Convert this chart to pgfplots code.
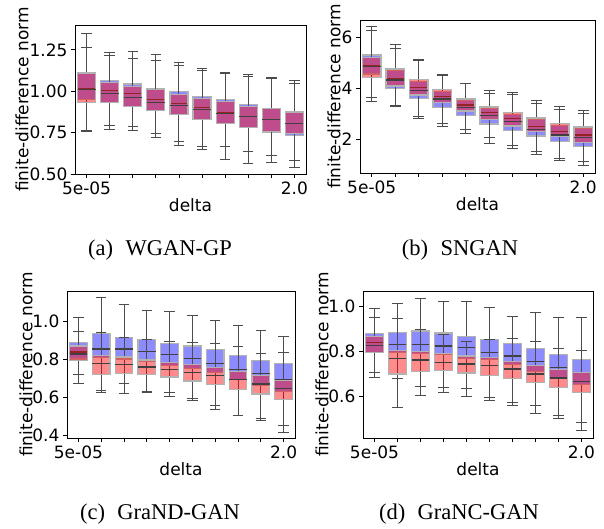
\documentclass[border=0pt]{standalone}
\usepackage{fontspec}
\setmainfont{DejaVu Sans}
\newfontfamily\capfont{Liberation Serif}
\usepackage{pgfplots}
\pgfplotsset{compat=1.18}
\usepgfplotslibrary{statistics}

\pgfplotsset{
 myax/.style={
  scale only axis, anchor=south west,
  xmin=0.5, xmax=10.5,
  xtick={1,...,10}, xticklabels={\mbox{5e-05},,,,,,,,,\mbox{2.0}},
  tick pos=left, tick align=outside, major tick length=4pt,
  tick style={black, line width=0.8pt},
  axis line style={black, line width=0.8pt},
  every tick label/.append style={font=\fontsize{17}{20}\selectfont},
  label style={font=\fontsize{17}{20}\selectfont},
  /pgf/number format/assume math mode=true,
  xlabel={delta}, ylabel={finite-difference norm},
  xlabel style={at={(axis description cs:0.5,0)}, anchor=center, yshift=-31pt},
  boxplot/draw direction=y,
  boxplot/box extend=0.78,
  boxplot/whisker extend=0.45,
  boxplot/every whisker/.style={draw=black!70, line width=1pt},
  boxplot/every median/.style={draw=black!75, line width=1.2pt},
  boxplot/every box/.style={draw=gray!60, line width=1.2pt},
 },
 bluebox/.style={fill=blue, fill opacity=0.45},
 redbox/.style={fill=red, fill opacity=0.45},
}
% draw position, lower whisker, lower quartile, median, upper quartile, upper whisker
\newcommand{\bb}[6]{\addplot[bluebox, boxplot prepared={draw position=#1, lower whisker=#2, lower quartile=#3, median=#4, upper quartile=#5, upper whisker=#6}] coordinates {};}
\newcommand{\br}[6]{\addplot[redbox, boxplot prepared={draw position=#1, lower whisker=#2, lower quartile=#3, median=#4, upper quartile=#5, upper whisker=#6}] coordinates {};}

\begin{document}
\begin{tikzpicture}
\useasboundingbox (0,0) rectangle (604pt,529pt);

% (a) WGAN-GP
\begin{axis}[myax, at={(75pt,355pt)}, width=231pt, height=149pt,
  ymin=0.5, ymax=1.40, ytick={0.5,0.75,1.0,1.25},
  yticklabel style={/pgf/number format/.cd, fixed, fixed zerofill, precision=2},
  ylabel style={at={(axis description cs:-0.2294,0.5)}, anchor=center}]
\bb{1}{0.764}{0.948}{1.014}{1.114}{1.350}
\bb{2}{0.794}{0.934}{1.004}{1.064}{1.234}
\bb{3}{0.788}{0.908}{0.984}{1.044}{1.240}
\bb{4}{0.744}{0.884}{0.950}{1.018}{1.224}
\bb{5}{0.694}{0.860}{0.924}{1.000}{1.174}
\bb{6}{0.664}{0.830}{0.904}{0.970}{1.138}
\bb{7}{0.668}{0.804}{0.870}{0.948}{1.114}
\bb{8}{0.638}{0.780}{0.846}{0.920}{1.104}
\bb{9}{0.614}{0.754}{0.828}{0.894}{1.080}
\bb{10}{0.584}{0.734}{0.804}{0.874}{1.064}
\br{1}{0.758}{0.934}{1.010}{1.110}{1.264}
\br{2}{0.768}{0.934}{0.984}{1.054}{1.214}
\br{3}{0.764}{0.908}{0.964}{1.028}{1.198}
\br{4}{0.718}{0.884}{0.934}{1.008}{1.184}
\br{5}{0.674}{0.860}{0.912}{0.980}{1.154}
\br{6}{0.650}{0.830}{0.888}{0.954}{1.128}
\br{7}{0.588}{0.804}{0.866}{0.940}{1.110}
\br{8}{0.564}{0.780}{0.846}{0.908}{1.088}
\br{9}{0.568}{0.758}{0.828}{0.894}{1.074}
\br{10}{0.538}{0.745}{0.804}{0.874}{1.048}
\end{axis}

% (b) SNGAN
\begin{axis}[myax, at={(360pt,356pt)}, width=235pt, height=153pt,
  ymin=0.68, ymax=6.68, ytick={2,4,6},
  ylabel style={at={(axis description cs:-0.1106,0.5)}, anchor=center}]
\bb{1}{3.63}{4.56}{4.88}{5.31}{6.42}
\bb{2}{3.32}{4.00}{4.39}{4.70}{5.73}
\bb{3}{2.89}{3.61}{4.04}{4.28}{5.14}
\bb{4}{2.63}{3.25}{3.67}{3.88}{4.56}
\bb{5}{2.37}{2.92}{3.35}{3.52}{4.20}
\bb{6}{2.08}{2.60}{3.06}{3.20}{3.91}
\bb{7}{1.76}{2.34}{2.82}{2.97}{3.83}
\bb{8}{1.52}{2.13}{2.50}{2.77}{3.54}
\bb{9}{1.26}{1.91}{2.30}{2.55}{3.28}
\bb{10}{1.15}{1.71}{2.17}{2.41}{3.15}
\br{1}{3.48}{4.43}{4.85}{5.22}{6.25}
\br{2}{3.28}{4.09}{4.33}{4.76}{5.57}
\br{3}{2.82}{3.74}{3.93}{4.35}{5.10}
\br{4}{2.52}{3.45}{3.58}{3.95}{4.52}
\br{5}{2.24}{3.11}{3.25}{3.58}{4.17}
\br{6}{1.84}{2.78}{2.95}{3.27}{3.80}
\br{7}{1.65}{2.52}{2.69}{3.04}{3.74}
\br{8}{1.39}{2.30}{2.39}{2.84}{3.41}
\br{9}{1.16}{2.10}{2.17}{2.62}{3.18}
\br{10}{0.98}{1.87}{2.07}{2.48}{3.02}
\end{axis}

% (c) GraND-GAN
\begin{axis}[myax, at={(67pt,91pt)}, width=228pt, height=147pt,
  ymin=0.384, ymax=1.159, ytick={0.4,0.6,0.8,1.0},
  yticklabel style={/pgf/number format/.cd, fixed, fixed zerofill, precision=1},
  ylabel style={at={(axis description cs:-0.1798,0.5)}, anchor=center}]
\bb{1}{0.719}{0.800}{0.837}{0.888}{1.019}
\bb{2}{0.623}{0.807}{0.853}{0.935}{1.126}
\bb{3}{0.618}{0.800}{0.853}{0.915}{1.090}
\bb{4}{0.623}{0.789}{0.839}{0.904}{1.058}
\bb{5}{0.605}{0.768}{0.825}{0.881}{1.051}
\bb{6}{0.582}{0.750}{0.802}{0.869}{1.030}
\bb{7}{0.534}{0.729}{0.775}{0.851}{1.005}
\bb{8}{0.503}{0.692}{0.745}{0.819}{0.977}
\bb{9}{0.476}{0.662}{0.724}{0.793}{0.952}
\bb{10}{0.450}{0.630}{0.692}{0.777}{0.919}
\br{1}{0.671}{0.793}{0.827}{0.869}{0.945}
\br{2}{0.635}{0.719}{0.777}{0.821}{0.942}
\br{3}{0.671}{0.724}{0.772}{0.811}{0.915}
\br{4}{0.627}{0.719}{0.758}{0.795}{0.904}
\br{5}{0.623}{0.706}{0.745}{0.781}{0.892}
\br{6}{0.591}{0.685}{0.729}{0.772}{0.888}
\br{7}{0.556}{0.665}{0.713}{0.756}{0.883}
\br{8}{0.503}{0.639}{0.692}{0.733}{0.864}
\br{9}{0.488}{0.616}{0.669}{0.712}{0.830}
\br{10}{0.411}{0.586}{0.644}{0.688}{0.835}
\end{axis}

% (d) GraNC-GAN
\begin{axis}[myax, at={(363pt,91pt)}, width=230pt, height=147pt,
  ymin=0.416, ymax=1.07, ytick={0.6,0.8,1.0},
  yticklabel style={/pgf/number format/.cd, fixed, fixed zerofill, precision=1},
  ylabel style={at={(axis description cs:-0.1783,0.5)}, anchor=center}]
\bb{1}{0.709}{0.796}{0.841}{0.880}{0.993}
\bb{2}{0.679}{0.796}{0.832}{0.885}{1.015}
\bb{3}{0.647}{0.793}{0.832}{0.892}{1.038}
\bb{4}{0.642}{0.788}{0.825}{0.883}{1.023}
\bb{5}{0.635}{0.768}{0.818}{0.869}{1.025}
\bb{6}{0.596}{0.764}{0.796}{0.854}{0.996}
\bb{7}{0.574}{0.742}{0.781}{0.835}{0.958}
\bb{8}{0.559}{0.712}{0.756}{0.815}{0.975}
\bb{9}{0.515}{0.680}{0.731}{0.788}{0.952}
\bb{10}{0.486}{0.654}{0.709}{0.766}{0.952}
\br{1}{0.683}{0.796}{0.829}{0.866}{0.952}
\br{2}{0.552}{0.701}{0.768}{0.807}{0.949}
\br{3}{0.603}{0.712}{0.763}{0.800}{0.898}
\br{4}{0.617}{0.717}{0.752}{0.793}{0.876}
\br{5}{0.599}{0.705}{0.745}{0.781}{0.847}
\br{6}{0.584}{0.695}{0.737}{0.774}{0.855}
\br{7}{0.559}{0.679}{0.723}{0.756}{0.858}
\br{8}{0.527}{0.664}{0.701}{0.737}{0.844}
\br{9}{0.504}{0.639}{0.683}{0.720}{0.815}
\br{10}{0.450}{0.617}{0.666}{0.709}{0.807}
\end{axis}

\node[font=\capfont\fontsize{22.5}{26}\selectfont] at (160pt,279pt) {(a)\hspace{0.55em}WGAN-GP};
\node[font=\capfont\fontsize{22.5}{26}\selectfont] at (460pt,279pt) {(b)\hspace{0.55em}SNGAN};
\node[font=\capfont\fontsize{22.5}{26}\selectfont] at (160pt,15pt) {(c)\hspace{0.55em}GraND-GAN};
\node[font=\capfont\fontsize{22.5}{26}\selectfont] at (459pt,15pt) {(d)\hspace{0.55em}GraNC-GAN};
\end{tikzpicture}
\end{document}
